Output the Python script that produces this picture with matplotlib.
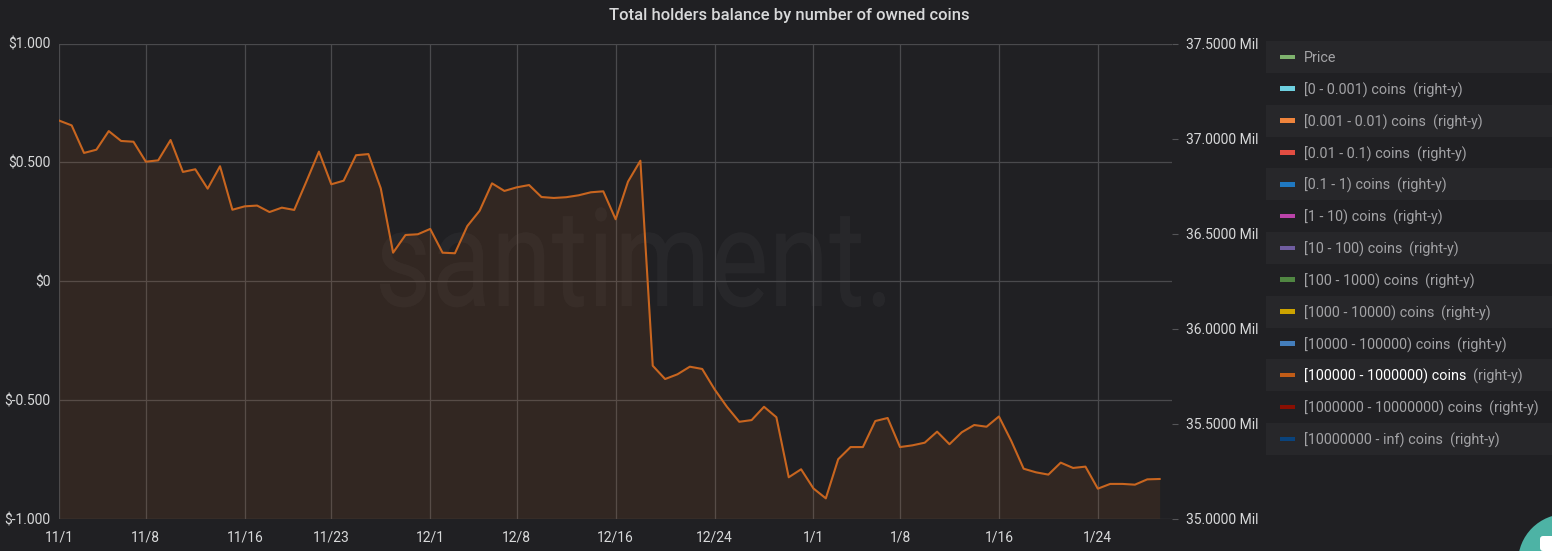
import datetime
import matplotlib
matplotlib.use("Agg")
import matplotlib.pyplot as plt
import matplotlib.dates as mdates
from matplotlib.patches import Rectangle, Circle, FancyBboxPatch, PathPatch
from matplotlib.transforms import IdentityTransform, Affine2D
from matplotlib.textpath import TextPath
from matplotlib.font_manager import FontProperties
from matplotlib.ticker import FuncFormatter

plt.rcParams['font.family'] = ['Roboto', 'DejaVu Sans']

# daily balance of the [100000 - 1000000) group, in millions of coins
start_date = datetime.date(2019, 11, 1)
balance_mil = [
    37.094, 37.069, 36.924, 36.941, 37.039, 36.987, 36.983, 36.878, 36.885, 36.992,
    36.824, 36.838, 36.736, 36.854, 36.625, 36.643, 36.647, 36.613, 36.636, 36.624,
    36.776, 36.931, 36.759, 36.778, 36.912, 36.918, 36.738, 36.399, 36.492, 36.496,
    36.524, 36.399, 36.396, 36.539, 36.620, 36.764, 36.724, 36.743, 36.755, 36.692,
    36.687, 36.691, 36.701, 36.717, 36.722, 36.575, 36.773, 36.883, 35.804, 35.734,
    35.759, 35.799, 35.787, 35.680, 35.588, 35.509, 35.518, 35.588, 35.533, 35.217,
    35.259, 35.158, 35.106, 35.312, 35.376, 35.376, 35.513, 35.529, 35.376, 35.385,
    35.399, 35.457, 35.391, 35.454, 35.492, 35.483, 35.537, 35.408, 35.262, 35.243,
    35.231, 35.294, 35.266, 35.273, 35.157, 35.182, 35.182, 35.178, 35.206, 35.208,
]
dates = [start_date + datetime.timedelta(days=i) for i in range(len(balance_mil))]

x_tick_dates = [datetime.date(2019, 11, 1), datetime.date(2019, 11, 8), datetime.date(2019, 11, 16),
                datetime.date(2019, 11, 23), datetime.date(2019, 12, 1), datetime.date(2019, 12, 8),
                datetime.date(2019, 12, 16), datetime.date(2019, 12, 24), datetime.date(2020, 1, 1),
                datetime.date(2020, 1, 8), datetime.date(2020, 1, 16), datetime.date(2020, 1, 24)]
x_tick_labels = ['11/1', '11/8', '11/16', '11/23', '12/1', '12/8', '12/16', '12/24',
                 '1/1', '1/8', '1/16', '1/24']
price_ticks = [1.0, 0.5, 0.0, -0.5, -1.0]
price_labels = ['$1.000', '$0.500', '$0', '$-0.500', '$-1.000']
balance_ticks = [35.0, 35.5, 36.0, 36.5, 37.0, 37.5]

legend_labels = ['Price', '[0 - 0.001) coins', '[0.001 - 0.01) coins', '[0.01 - 0.1) coins',
                 '[0.1 - 1) coins', '[1 - 10) coins', '[10 - 100) coins', '[100 - 1000) coins',
                 '[1000 - 10000) coins', '[10000 - 100000) coins', '[100000 - 1000000) coins',
                 '[1000000 - 10000000) coins', '[10000000 - inf) coins']
legend_colors = ['#7EB26D', '#6ED0E0', '#EF843C', '#E24D42', '#1F78C1', '#BA43A9', '#705DA0',
                 '#508642', '#CCA300', '#447EBC', '#C15C17', '#890F02', '#0A437C']
highlighted = '[100000 - 1000000) coins'

BG = '#202023'
TEXT = '#d8d9da'
LINE = '#C8651F'

W, H = 1552, 551
fig = plt.figure(figsize=(W / 100, H / 100), dpi=100, facecolor=BG)
px = IdentityTransform()

left, right, top, bottom = 59.3, 1172, 43.5, 518.5
ax = fig.add_axes([left / W, 1 - bottom / H, (right - left) / W, (bottom - top) / H])
ax.set_facecolor(BG)
ax2 = ax.twinx()

# watermark, stretched to fit the box it takes in the screenshot
wm_font = FontProperties(family='Roboto', weight='normal')
wm = TextPath((0, 0), 'santiment.', size=100, prop=wm_font)
ext = wm.get_extents()
xh = TextPath((0, 0), 's', size=100, prop=wm_font).get_extents().height
sx = (885 - 380) / ext.width
sy = 75 / xh
wm_tr = Affine2D().translate(-ext.x0, 0).scale(sx, sy).translate(380, H - 306)
ax.add_patch(PathPatch(wm_tr.transform_path(wm), transform=px, facecolor='white',
                       edgecolor='none', alpha=0.035, zorder=0.5, clip_on=False))

# main series on the right axis
ax2.plot(dates, balance_mil, color=LINE, lw=1.5, zorder=3)
ax2.fill_between(dates, balance_mil, 35.0, color=LINE, alpha=0.11, lw=0, zorder=2)

ax.set_xlim(mdates.date2num(datetime.date(2019, 11, 1)), mdates.date2num(datetime.date(2020, 1, 30)))
ax.set_ylim(-1, 1)
ax2.set_ylim(35.0, 37.5)

ax.set_xticks([mdates.date2num(d) for d in x_tick_dates])
ax.set_xticklabels(x_tick_labels)
ax.set_yticks(price_ticks)
ax.set_yticklabels(price_labels)
ax2.set_yticks(balance_ticks)
ax2.yaxis.set_major_formatter(FuncFormatter(lambda v, p: '%.4f Mil' % v))

ax.grid(True, color='#4a4a4d', lw=0.9)
ax.tick_params(axis='x', length=0, pad=8.5, labelsize=10, labelcolor=TEXT)
ax.tick_params(axis='y', length=0, pad=6.5, labelsize=10, labelcolor=TEXT)
ax2.tick_params(axis='y', length=4.3, width=0.8, color='#555558', pad=5.5, labelsize=10, labelcolor=TEXT)
for a in (ax, ax2):
    for s in a.spines.values():
        s.set_visible(False)

fig.text(789.5 / W, 1 - 15.5 / H, 'Total holders balance by number of owned coins', ha='center',
         va='center', fontsize=12, fontweight='medium', color=TEXT)

# legend panel, drawn in pixel coordinates
renderer = fig.canvas.get_renderer()
row_h = 31.83
for i, (lab, col) in enumerate(zip(legend_labels, legend_colors)):
    yc = 57 + i * row_h
    if i % 2 == 0:
        fig.patches.append(Rectangle((1266, H - yc - row_h / 2), 290, row_h, transform=px,
                                     facecolor='#27272a', edgecolor='none'))
    fig.patches.append(Rectangle((1280, H - yc - 2.2), 14.5, 4.6, transform=px,
                                 facecolor=col, edgecolor='none'))
    c = 'white' if lab == highlighted else '#a3a3a6'
    t = fig.text(1304, H - yc - 1.5, lab, transform=px, va='center', ha='left', fontsize=10.4, color=c)
    if lab != 'Price':
        e = t.get_window_extent(renderer)
        fig.text(e.x1 + 7, H - yc - 1.5, '(right-y)', transform=px, va='center', ha='left',
                 fontsize=10.4, color='#a3a3a6')

# chat widget corner
fig.patches.append(Circle((1566, H - 562), 48, transform=px, facecolor='#4db3a5', edgecolor='none'))
fig.patches.append(FancyBboxPatch((1540, 0), 20, 15, boxstyle='round,pad=0,rounding_size=3',
                                  transform=px, facecolor='white', edgecolor='none'))

fig.savefig('out.png', dpi=100, facecolor=BG)
